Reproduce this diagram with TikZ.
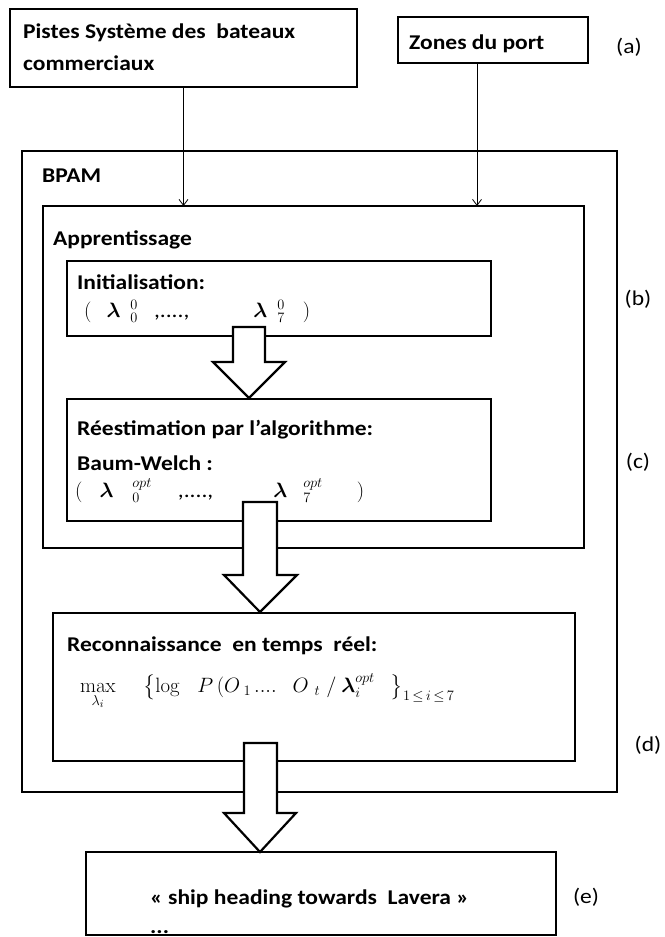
\documentclass[tikz,border=0pt]{standalone}
\usepackage{amsmath, amssymb}
\usepackage[no-math]{fontspec}
\setmainfont{Carlito}[FakeStretch=1.12]
\usetikzlibrary{positioning, arrows.meta}

\tikzset{
  frame/.style={draw, line width=2.4pt, inner sep=0pt, outer sep=0pt, anchor=north west},
  blockarr/.style={draw, line width=2.2pt, fill=white, line join=miter},
  feed/.style={line width=0.8pt, -{Straight Barb[length=6pt,width=9pt]}},
  txt/.style={anchor=base west, inner sep=0pt, font=\fontsize{21}{32}\selectfont\bfseries},
  mth/.style={anchor=base west, inner sep=0pt, font=\fontsize{21}{25}\selectfont},
  tag/.style={inner sep=0pt, font=\fontsize{21}{25}\selectfont},
}

\begin{document}
\begin{tikzpicture}[x=1pt,y=1pt,yscale=-1]
    \useasboundingbox (0,0) rectangle (664,937);

    %Shape: Rectangle (sources)
    \node[frame, minimum width=347pt, minimum height=78pt] (pistes) at (10,9) {};
    \node[frame, minimum width=190pt, minimum height=46pt] (zones) at (398,17) {};
    %Shape: Rectangle (BPAM and its parts)
    \node[frame, minimum width=595pt, minimum height=641pt] (bpam) at (22,151) {};
    \node[frame, minimum width=541pt, minimum height=342pt] (appr) at (43,206) {};
    \node[frame, minimum width=424pt, minimum height=75pt] (init) at (67,261) {};
    \node[frame, minimum width=424pt, minimum height=122pt] (reest) at (67,399) {};
    \node[frame, minimum width=522pt, minimum height=148pt] (reco) at (53,613) {};
    %Shape: Rectangle (result)
    \node[frame, minimum width=470pt, minimum height=83pt] (ship) at (86,852) {};

    %Straight Lines
    \coordinate (zonesfoot) at (477,63);
    \draw[feed] (pistes.south) -- (pistes.south |- appr.north);
    \draw[feed] (zonesfoot) -- (zonesfoot |- appr.north);

    %Down Arrow
    \draw[blockarr] (233,327) -- (233,362) -- (213,362) -- (249,398) -- (285,362) -- (265,362) -- (265,327) -- cycle;
    %Down Arrow
    \draw[blockarr] (243,502) -- (243,575) -- (224,575) -- (260,612) -- (297,575) -- (277,575) -- (277,502) -- cycle;
    %Down Arrow
    \draw[blockarr] (244,743) -- (244,813) -- (224,813) -- (260,852) -- (296,813) -- (277,813) -- (277,743) -- cycle;

    % Text Node
    \node[txt, anchor=north west, align=left] (tpistes) at (23,24) {Pistes Système des~ bateaux\\commerciaux};
    \node[txt] (tzones) at (409,49) {Zones du port};
    \node[txt] (tbpam) at (42,182) {BPAM};
    \node[txt] (tappr) at (53,245) {Apprentissage};
    \node[txt] (tinit) at (77,289) {Initialisation:};
    \node[mth] (linit) at (84,317) {$(\hspace{15pt}\boldsymbol{\lambda}\hspace{10pt}{}^{0}_{0}\hspace{16pt}\text{,....,}\hspace{64pt}\boldsymbol{\lambda}\hspace{10pt}{}^{0}_{7}\hspace{18pt})$};
    \node[txt] (treest) at (77,435) {Réestimation par l'algorithme:};
    \node[txt] (tbaum) at (77,470) {Baum-Welch :};
    \node[mth] (lreest) at (75,497) {$(\hspace{17pt}\boldsymbol{\lambda}\hspace{19pt}{}^{opt}_{0}\hspace{26pt}\text{,....,}\hspace{60pt}\boldsymbol{\lambda}\hspace{16pt}{}^{opt}_{7}\hspace{34pt})$};
    \node[txt] (treco) at (67,651) {Reconnaissance~ en temps~ réel:};
    \node[mth] (lreco) at (80,692) {$\max\limits_{\lambda_i}\hspace{24pt}\big\{\!\log\hspace{14pt}P\,(O_{\;1}\hspace{3pt}....\hspace{16pt}O_{\;\,t}\hspace{6pt}/\hspace{5pt}\boldsymbol{\lambda}_i^{opt}\hspace{16pt}\big\}_{1\,\le\, i\,\le\,7}$};
    \node[txt] (tship) at (150,904) {« ship heading towards~ Lavera »};
    \node[txt] (tdots) at (150,933) {...};

    % Text Node (side labels)
    \node[tag] (la) at (629,47) {(a)};
    \node[tag] (lb) at (638,299) {(b)};
    \node[tag] (lc) at (638,462) {(c)};
    \node[tag] (ld) at (648,745) {(d)};
    \node[tag] (le) at (586,897) {(e)};

\end{tikzpicture}
\end{document}
